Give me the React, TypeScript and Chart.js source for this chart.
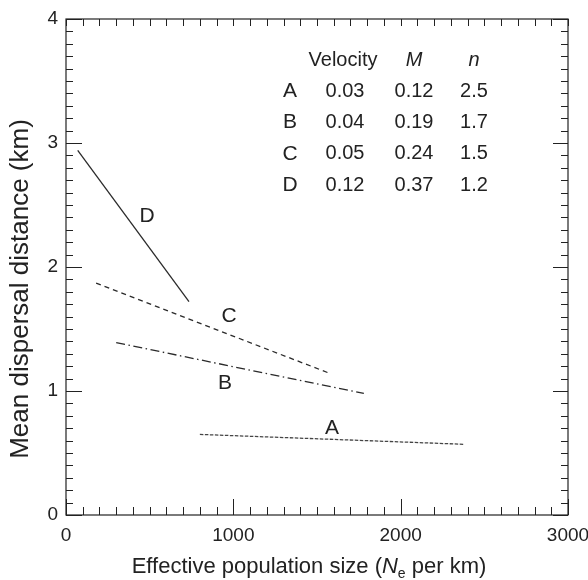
import { useEffect, useRef } from "react";
import { Chart, registerables } from "chart.js";
Chart.register(...registerables);

// Series (effective population size, mean dispersal distance)
const seriesNames = ["A", "B", "C", "D"];
const aX = [800, 2380];
const aY = [0.65, 0.57];
const bX = [300, 1780];
const bY = [1.39, 0.98];
const cX = [180, 1580];
const cY = [1.87, 1.14];
const dX = [70, 735];
const dY = [2.94, 1.72];

// Curve label anchor points (data coords)
const labelX = [1590, 950, 974, 484];
const labelY = [0.7, 1.06, 1.6, 2.41];

// Inset table
const velocity = ["0.03", "0.04", "0.05", "0.12"];
const mValues = ["0.12", "0.19", "0.24", "0.37"];
const nValues = ["2.5", "1.7", "1.5", "1.2"];

// Axes
const xMin = 0;
const xMax = 3000;
const xMajor = 1000;
const xMinor = 100;
const yMin = 0;
const yMax = 4;
const yMajor = 1;
const yMinor = 0.1;

const FONT = "'Liberation Sans', Arial, Helvetica, sans-serif";
const INK = "#222";

const toPts = (xs: number[], ys: number[]) => xs.map((x, i) => ({ x, y: ys[i] }));

const decoPlugin = {
  id: "deco",
  afterDraw(chart: any) {
    const { ctx, chartArea } = chart;
    const xs = chart.scales.x;
    const ys = chart.scales.y;
    const { left, right, top, bottom } = chartArea;
    ctx.save();
    ctx.strokeStyle = INK;
    ctx.lineWidth = 1.2;
    // frame
    ctx.strokeRect(left, top, right - left, bottom - top);
    ctx.lineWidth = 1;
    // x ticks
    const nx = Math.round((xMax - xMin) / xMinor);
    for (let i = 0; i <= nx; i++) {
      const v = xMin + i * xMinor;
      const px = Math.round(xs.getPixelForValue(v)) + 0.5;
      const major = i % Math.round(xMajor / xMinor) === 0;
      ctx.beginPath();
      ctx.moveTo(px, bottom);
      ctx.lineTo(px, bottom - (major ? 16 : 8));
      ctx.moveTo(px, top);
      ctx.lineTo(px, top + 7);
      ctx.stroke();
    }
    const ny = Math.round((yMax - yMin) / yMinor);
    for (let i = 0; i <= ny; i++) {
      const v = yMin + i * yMinor;
      const py = Math.round(ys.getPixelForValue(v)) + 0.5;
      const major = i % Math.round(yMajor / yMinor) === 0;
      ctx.beginPath();
      ctx.moveTo(left, py);
      ctx.lineTo(left + (major ? 16 : 7), py);
      ctx.moveTo(right, py);
      ctx.lineTo(right - (major ? 15 : 7), py);
      ctx.stroke();
    }

    ctx.fillStyle = INK;
    ctx.textAlign = "center";
    ctx.textBaseline = "middle";
    // curve labels
    ctx.font = `21px ${FONT}`;
    seriesNames.forEach((s, i) => {
      ctx.fillText(s, xs.getPixelForValue(labelX[i]), ys.getPixelForValue(labelY[i]));
    });

    // table
    const colL = left + 224;
    const colV = left + 277;
    const colM = left + 348;
    const colN = left + 408;
    const rowH = top + 41;
    const rowStep = 31.3;
    ctx.font = `20px ${FONT}`;
    ctx.fillText("Velocity", colV, rowH);
    ctx.font = `italic 20px ${FONT}`;
    ctx.fillText("M", colM, rowH);
    ctx.fillText("n", colN, rowH);
    seriesNames.forEach((s, i) => {
      const y = rowH + rowStep * (i + 1);
      ctx.font = `21px ${FONT}`;
      ctx.fillText(s, colL, y);
      ctx.font = `20px ${FONT}`;
      ctx.fillText(velocity[i], colV + 2, y);
      ctx.fillText(mValues[i], colM, y);
      ctx.fillText(nValues[i], colN, y);
    });

    // x axis title with subscript
    ctx.textAlign = "left";
    ctx.textBaseline = "alphabetic";
    const fs = 22;
    const partA = "Effective population size (";
    const partN = "N";
    const partSub = "e";
    const partB = " per km)";
    ctx.font = `${fs}px ${FONT}`;
    const wA = ctx.measureText(partA).width;
    const wB = ctx.measureText(partB).width;
    ctx.font = `italic ${fs}px ${FONT}`;
    const wN = ctx.measureText(partN).width;
    ctx.font = `${Math.round(fs * 0.62)}px ${FONT}`;
    const wS = ctx.measureText(partSub).width;
    const total = wA + wN + wS + wB;
    let x0 = (left + right) / 2 - 8 - total / 2;
    const base = 573;
    ctx.font = `${fs}px ${FONT}`;
    ctx.fillText(partA, x0, base);
    x0 += wA;
    ctx.font = `italic ${fs}px ${FONT}`;
    ctx.fillText(partN, x0, base);
    x0 += wN;
    ctx.font = `${Math.round(fs * 0.62)}px ${FONT}`;
    ctx.fillText(partSub, x0, base + 5);
    x0 += wS;
    ctx.font = `${fs}px ${FONT}`;
    ctx.fillText(partB, x0, base);

    // y axis title
    ctx.save();
    ctx.translate(21, (top + bottom) / 2 + 22);
    ctx.rotate(-Math.PI / 2);
    ctx.textAlign = "center";
    ctx.textBaseline = "middle";
    ctx.font = `26px ${FONT}`;
    ctx.fillText("Mean dispersal distance (km)", 0, 0);
    ctx.restore();

    ctx.restore();
  },
};

export default function App() {
  const ref = useRef<HTMLCanvasElement | null>(null);
  useEffect(() => {
    if (!ref.current) return;
    const common = { borderColor: "#2a2a2a", borderWidth: 1.3, pointRadius: 0, showLine: true, fill: false };
    const chart = new Chart(ref.current, {
      type: "scatter",
      data: {
        datasets: [
          { label: "A", data: toPts(aX, aY), borderDash: [3.5, 1.5], ...common, borderColor: "#444" },
          { label: "B", data: toPts(bX, bY), borderDash: [9, 3.5, 1.5, 3.5], ...common },
          { label: "C", data: toPts(cX, cY), borderDash: [5, 4], ...common },
          { label: "D", data: toPts(dX, dY), ...common },
        ],
      },
      options: {
        animation: false,
        responsive: false,
        layout: { padding: { top: 19, right: 20, left: 0, bottom: 0 } },
        plugins: { legend: { display: false }, tooltip: { enabled: false } },
        scales: {
          x: {
            type: "linear",
            min: xMin,
            max: xMax,
            afterFit: (s: any) => {
              s.height = 65;
              s.paddingLeft = 0;
              s.paddingRight = 0;
            },
            grid: { display: false, drawTicks: false },
            border: { display: false },
            ticks: {
              stepSize: xMajor,
              color: INK,
              font: { size: 19, family: FONT },
              padding: 9,
              maxRotation: 0,
              callback: (v: any) => String(v),
            },
          },
          y: {
            type: "linear",
            min: yMin,
            max: yMax,
            afterFit: (s: any) => {
              s.width = 66;
              s.paddingTop = 0;
              s.paddingBottom = 0;
            },
            grid: { display: false, drawTicks: false },
            border: { display: false },
            ticks: {
              stepSize: yMajor,
              color: INK,
              font: { size: 19, family: FONT },
              padding: 8,
              callback: (v: any) => String(v),
            },
          },
        },
      },
      plugins: [decoPlugin],
    });
    return () => chart.destroy();
  }, []);
  return (
    <div style={{ position: "absolute", left: 0, top: 0, width: 588, height: 580, background: "#fff" }}>
      <canvas ref={ref} width={588} height={580} style={{ display: "block" }} />
    </div>
  );
}
